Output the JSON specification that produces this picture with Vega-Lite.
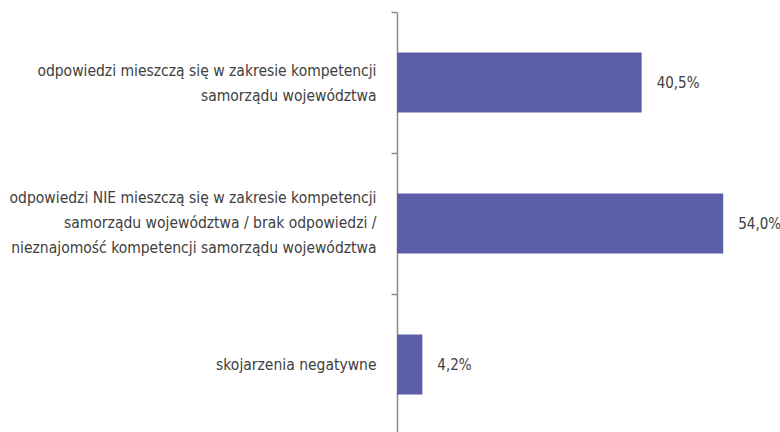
{
  "$schema": "https://vega.github.io/schema/vega-lite/v6.json",
  "width": 383,
  "height": 423,
  "autosize": {"type": "none"},
  "padding": {"left": 397, "top": 12, "right": 0, "bottom": 0},
  "background": "white",
  "data": {"values": [
    {"kat": "odpowiedzi mieszczą się w zakresie kompetencji|samorządu województwa", "v": 40.5, "lab": "40,5%"},
    {"kat": "odpowiedzi NIE mieszczą się w zakresie kompetencji|samorządu województwa / brak odpowiedzi /|nieznajomość kompetencji samorządu województwa", "v": 54.0, "lab": "54,0%"},
    {"kat": "skojarzenia negatywne", "v": 4.2, "lab": "4,2%"}
  ]},
  "config": {"view": {"stroke": null}, "font": "DejaVu Sans Condensed"},
  "encoding": {
    "y": {"field": "kat", "type": "nominal", "sort": null,
      "scale": {"paddingInner": 0, "paddingOuter": 0},
      "axis": {"title": null, "tickBand": "extent", "domainColor": "#8c8c8c", "tickColor": "#8c8c8c", "domainWidth": 1.5, "tickWidth": 1.5, "tickSize": 6,
        "labelExpr": "isString(datum.value) ? split(datum.value, '|') : ''", "labelFontSize": 15.5, "labelColor": "#404040", "labelLineHeight": 25, "labelPadding": 15, "labelFont": "DejaVu Sans Condensed", "labelLimit": 400,
        "labelOffset": {"condition": [
          {"test": "isString(datum.value) && indexof(datum.value, 'NIE') >= 0", "value": -26},
          {"test": "isString(datum.value) && indexof(datum.value, 'mieszczą') >= 0", "value": -12}
        ], "value": 0}}},
    "x": {"field": "v", "type": "quantitative", "scale": {"domain": [0, 63.4]}, "axis": null}
  },
  "layer": [
    {"mark": {"type": "bar", "size": 60, "color": "#5a5ea9"}},
    {"mark": {"type": "text", "align": "left", "dx": 15, "fontSize": 15, "color": "#404040", "font": "DejaVu Sans Condensed"},
     "encoding": {"text": {"field": "lab"}}}
  ]
}
